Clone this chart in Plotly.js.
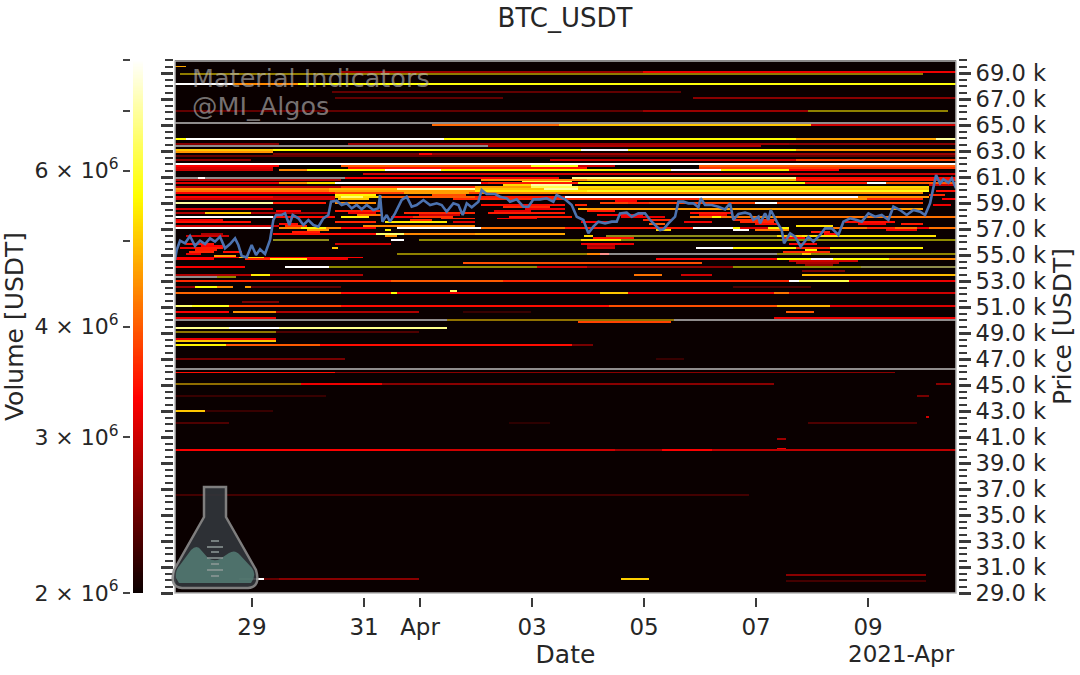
<!DOCTYPE html>
<html>
<head>
<meta charset="utf-8">
<script src="https://cdn.plot.ly/plotly-3.0.1.min.js"></script>
<style>html,body{margin:0;padding:0;background:#fff}</style>
</head>
<body>
<div id="plot" style="width:1080px;height:675px"></div>
<script>
// time is in days since 2021-03-28 00:00, price in USDT, volume in millions of USDT
var startDay = -0.375;
var endDay = 13.57;

// price line
var priceDay = [-0.375,-0.345,-0.285,-0.196,-0.107,-0.018,0.072,0.161,0.25,0.34,0.429,0.518,0.607,0.697,0.756,0.816,0.905,0.994,1.072,1.143,1.232,1.322,1.381,1.429,1.53,1.59,1.667,1.726,1.828,1.917,2.006,2.096,2.185,2.274,2.363,2.411,2.512,2.601,2.69,2.78,2.869,2.958,3.048,3.167,3.256,3.286,3.328,3.405,3.464,3.554,3.673,3.762,3.851,3.94,4.06,4.179,4.298,4.387,4.476,4.595,4.685,4.762,4.834,4.923,5.042,5.101,5.19,5.34,5.429,5.548,5.607,5.726,5.845,5.935,6.024,6.143,6.262,6.381,6.44,6.56,6.589,6.708,6.798,6.917,7.006,7.095,7.185,7.304,7.423,7.512,7.571,7.69,7.78,7.899,8.018,8.107,8.226,8.286,8.345,8.435,8.554,8.613,8.702,8.792,8.881,8.97,9.012,9.089,9.208,9.327,9.446,9.536,9.595,9.685,9.804,9.893,9.952,10.042,10.071,10.161,10.22,10.262,10.369,10.458,10.5,10.607,10.696,10.798,10.935,11.024,11.143,11.232,11.351,11.47,11.56,11.679,11.798,11.887,12.006,12.125,12.244,12.363,12.452,12.571,12.69,12.81,12.929,13.018,13.107,13.167,13.214,13.286,13.345,13.435,13.494,13.57];
var priceUsd = [54615,55385,56102,55897,56461,55692,56102,55846,56282,56025,56410,55513,55846,56282,55769,54923,54820,55769,55000,55436,55077,56154,57692,58077,58077,58205,57307,58077,57820,57307,57692,57307,57179,57820,58077,59102,59179,58846,58974,58589,58846,58512,58846,58461,58589,59615,57564,58077,57564,58205,59230,59487,58717,58846,59230,58846,58974,58846,58333,58974,58846,58077,58974,58666,59102,59999,59692,59692,59487,59359,59102,59282,58717,58717,59282,59282,59359,59102,59615,59359,59282,58846,57948,57692,56666,57179,57564,57435,57564,57564,58205,58256,57948,58205,58205,57692,57179,56923,56974,57435,57948,59102,59102,58974,58974,58666,59359,58846,58846,58717,58512,58974,57692,58153,58256,58153,57692,57948,57435,58205,57692,58461,57564,56923,55897,56666,56410,55641,56410,56025,56538,57051,57051,56538,57564,57820,57692,57564,58205,57948,58077,57692,58717,58461,58077,58461,58333,58077,58974,60256,61153,60512,60820,60564,60897,60128];

// resting order walls: [price, from day, to day, volume]
var upperWalls = [
  [69540,-0.375,-0.2,4.7],[69100,2.6,8,2.7],[69100,8,13.57,3.2],
  [68080,-0.375,0.66,8],[68080,0.66,1.8,4.4],[68080,1.8,13.57,5.7],
  [67540,2.45,8.64,2.4],[67080,2.5,5.5,2.4],[67080,8.9,13.57,2.6],
  [66000,-0.375,8,2.4],[66000,8,10.95,2.7],
  [65050,4.2,6.5,4.1],[65050,6.5,11,5.0],[65050,11,13.57,3.0],
  [64000,-0.375,-0.2,5.6],[64000,-0.2,4.45,8],[64000,4.45,10.7,5.6],[64000,10.7,13.2,4.7],[64000,13.2,13.57,7],
  [63540,-0.375,1.5,2.6],[63540,2.7,10.6,2.7],[63540,10.6,13.57,2.6],
  [63300,5.2,10.1,2.8],
  [63000,-0.375,1.4,5.0],[63000,1.4,6.9,5.6],[63000,6.9,7.7,8],[63000,7.7,10.7,5.6],[63000,10.7,13.57,4.6],
  [62850,-0.375,1.4,4.5],[62700,1.4,4,2.5],[62700,4,4.2,3.3],[62700,4.2,13.57,2.7],
  [62530,-0.375,13.57,2.4],[62230,-0.375,1,2.6],[62230,6.3,10.7,3.0],[62230,10.7,13.57,3.8],
  [62000,-0.375,13.57,8],
  [61800,-0.375,1.5,3.3],[61800,2.6,6,4],[61800,6,6.8,5.8],[61800,6.8,7.5,3],[61800,9,13.57,4],
  [61650,-0.375,1.4,3.1],[61650,2.7,7,3.4],[61650,9,13.57,3.7],
  [61500,-0.375,1.4,3.0],[61500,1.5,2,4.4],[61500,2,3.4,5.6],[61500,3.4,4.4,8],[61500,4.4,8.5,5.5],[61500,8.5,9.4,8],[61500,9.4,10.6,5.5],[61500,10.6,11.5,3.3],
  [61230,3,13.57,3.0]
];

var priceZoneWalls = [
  [61000,0.05,0.15,8],[61000,2.65,6.5,3.3],[61000,6.7,10.7,6.8],[61000,10.7,13.57,3.4],
  [60770,-0.375,2.6,2.8],[60770,5.1,7,4.4],[60770,7,10.7,4.8],[60770,10.7,13.57,3.5],
  [60540,-0.375,1.5,3.1],[60540,1.5,2,4.5],[60540,2,2.5,5.3],[60540,2.5,5.1,8],[60540,5.1,6.2,3.3],[60540,6.2,6.6,7],[60540,6.6,10.9,5.6],[60540,10.9,12,3.5],[60540,12,12.3,8],[60540,12.3,13.57,4],
  [60230,-0.375,2.6,2.9],[60230,2.6,5,3.6],[60230,5,6.8,4.6],[60230,6.8,13.1,5.2],
  [60000,-0.375,2.4,4.5],[60000,2.4,3.6,4.9],[60000,3.6,5,7],[60000,5,13.1,5.0],
  [59850,-0.375,2.4,4.2],[59850,2.4,5,4.6],[59850,5,7,5.4],[59850,7,13.1,5.8],
  [59700,-0.375,2.5,3.3],[59700,2.5,5.1,3.8],[59700,5.1,13,4.4],
  [59460,-0.375,1.4,3.3],[59460,1.4,2.5,3],[59460,2.5,3.3,5.2],[59460,3.3,5,4],[59460,5,6.6,3.5],[59460,6.6,11.8,8],[59460,11.8,13.1,4.5],
  [59230,-0.375,2.5,3.0],[59230,4.6,9,3.6],[59230,9,12,4.4],[59230,12,13,3.6],
  [59000,-0.375,1.4,7],[59000,1.4,2.3,3.5],[59000,2.5,3.2,4.4],[59000,7.2,10,3.8],[59000,10,10.4,8],[59000,10.4,13,3.8],
  [58600,-0.375,1.4,3.1],[58600,7,13,4.6],[58310,-0.375,0.15,2.8],[58310,0.15,1,5],[58310,1,2.4,2.8],
  [58000,-0.375,1.4,8],[58000,1.4,2.5,3.4],[58000,2.6,3.1,5.5],[58000,8.8,13.57,4.2],
  [57700,-0.375,0.5,3.2],[57700,9.6,10.4,3.6],[57460,-0.375,1,3.4],[57460,3.4,4.5,5.4],
  [57230,-0.375,1.5,3.0],[57230,3,5,4.4],
  [57000,-0.375,1.4,8],[57000,1.5,2.6,4.4],[57000,3.6,5.1,8],[57000,5.1,6.6,4.2],[57000,6.6,8.9,3.5],[57000,8.9,9.6,8],[57000,9.6,10.6,5.5],[57000,11.4,13.57,4.2],
  [56850,9.6,9.85,8],[56850,10.3,10.6,4.4],
  [56620,1.4,3.2,3.4],[56620,3.2,3.7,6.5],[56620,3.7,5,4.4],[56620,5,6.6,4.7],[56500,10.4,13.2,5.3],
  [56150,3.5,3.7,8],[55850,2.5,3.5,3.0],[55540,2.43,2.53,5],[55540,7,7.5,3],[55540,8.95,9.6,8],[55540,9.6,13,5.5],
  [54850,-0.375,3,3.3],
  [54620,-0.375,0.3,3.3],[54620,0.9,2,5.4],[54620,2,2.7,3.2],[54620,8.2,10.4,3.3],[54620,10.4,11,5.6],[54620,11,11.4,8],[54620,11.4,12.4,5.6],[54620,12.4,13.57,4.4],
  [54310,4.75,9.05,3.9],
  [54080,-0.375,0.9,3.3],[54080,1.6,2.4,8],[54080,6.1,7,3],[54080,7,9.6,2.6]
];

// small patches of orders close to the price line
var priceCells = [
  [56650,0.1,0.5,2.8],[56500,-0.2,0.6,3],[55800,-0.2,0.3,3.4],[55650,0.1,0.5,3.3],[55600,-0.2,0.5,3.5],[55500,-0.3,0,3.2],[55350,0,0.35,3.5],[55300,-0.1,0.3,3.6],[55200,0.5,0.8,3.4],[55050,-0.2,0.1,3.2],[54900,0.3,0.7,4.6],[54800,0.75,1.2,5.0],[54650,0.9,1.3,3.6],
  [58350,1.45,1.9,3.3],[57400,1.5,1.8,3.4],[57200,1.6,2,3.6],[57050,1.9,2.3,5.5],[56900,2,2.4,4.5],[56750,1.7,2.2,3.5],
  [59600,2.5,3.2,5.5],[59450,2.6,3,6.5],[59300,2.55,3.1,5.0],[58400,2.5,3.3,3.5],[58200,2.7,3.2,3.2],[58050,2.9,3.3,4.2],[57500,2.5,3.2,3.6],[57100,2.6,3.2,3.3],
  [56900,3.4,3.5,5.5],[56500,3.4,3.6,4.5],
  [59750,3.7,4.9,4.6],[59600,4.2,4.8,3.9],[58300,3.7,5,3.6],[58100,4,4.7,3],[57950,3.5,4.3,3.3],[57900,3.9,4.6,3.7],[57800,4.4,5,3.6],[57650,3.8,4.2,3.6],[57500,4.6,5,3.1],
  [60650,5.8,6.7,6],[60500,5.2,6.8,3.5],[60350,6,6.7,7],[60300,5.5,6,5.2],[60200,6,6.8,6.3],[60050,6.2,6.8,7],[58900,5.1,5.8,3.4],[58800,5.1,6.6,3.4],[58750,5.5,6.3,3.6],[58600,5.9,6.6,3.2],[58450,5.3,6,3.1],[58200,5.2,6.6,3.5],[58000,5.6,6.7,3.5],[57800,5.4,6.1,3.2],
  [58900,6.75,7,3.6],[58600,6.8,7,4.8],[56450,6.95,7.08,5.2],[58100,7.15,7.5,3.4],[59200,7.5,7.9,3.3],[59000,7.7,8.1,3.6],[57300,8.1,8.4,4.0],[56900,8.2,8.5,5.2],
  [58450,7,7.5,3.5],[58150,7.2,8,3.3],[57900,7.6,8.4,3.2],[57700,8,8.5,3.6],[57500,6.9,7.4,3.3],[56300,7.1,7.8,3.4],[56100,6.9,7.6,4.8],[55900,6.9,7.8,3.2],[55700,7,7.5,2.8],[55150,7,7.4,3.4],
  [58300,8.8,9.6,3.4],[58200,9,9.5,3.5],[58100,9,9.5,3.2],[57900,9.2,9.4,5.5],[57500,8.7,9.2,3.2],[57500,9.7,10.3,3.6],[57300,10,10.4,3.4],[57100,9.7,10.2,3.1],[56900,10,10.5,4.2],[58000,10.1,10.4,4.5],
  [57200,10.7,11.4,5.3],[56800,11,11.3,3.5],[56600,11.2,11.5,3.3],[56400,10.5,10.8,5],[56300,10.5,10.9,3.3],[55900,10.6,11.1,3.3],[55600,10.7,11.3,3.6],[55400,10.9,11.1,5.5],[55300,10.5,11.3,3.6],[55150,10.8,11,4.6],[54500,10.6,11.8,3.0],[54300,10.7,11.5,2.8],[54150,10.9,11.4,2.6],[53800,10.8,11.6,2.5],
  [57500,11.6,12.5,3.4],[57300,11.8,12.3,3.2],[57100,12,12.5,3.6],[56900,12.3,12.9,3.2],[57300,12.6,13,3.5],[57000,12.9,13.1,3.2],
  [60300,13.1,13.57,3.0],[59900,13.2,13.57,3.4],[59600,13.1,13.4,3.6],[59300,13.3,13.57,3.3],[58900,13.15,13.5,3.2]
];

var lowerWalls = [
  [53520,-0.375,3,2.8],[53520,1.0,1.3,5.4],[53520,7.8,8.3,4.2],[53520,8.65,9.2,3.0],[53520,10.8,13.57,4.9],
  [53020,-0.375,3.5,3.6],[53020,3.5,5.5,4.0],[53020,5.5,10.6,3.6],[53020,10.6,10.75,8],[53020,10.75,11.65,6.2],[53020,11.65,13.57,3.2],
  [52600,-0.375,0,2.7],[52600,0,0.4,5.6],[52600,0.4,0.65,4.4],[52600,0.85,1,4.6],[52600,1,2.6,2.4],[52600,9.6,11,2.3],
  [52230,4.55,4.65,6.5],
  [52050,-0.375,2.6,4.1],[52050,2.6,3.5,3.4],[52050,3.5,3.6,5.6],[52050,3.6,7.2,3.3],[52050,7.2,7.7,5.0],[52050,7.7,10.3,3.2],[52050,10.3,10.6,4.2],[52050,10.6,13.57,3.0],
  [51300,0.8,1.5,2.5],
  [51020,-0.375,-0.05,6.5],[51020,-0.05,0.6,5.8],[51020,0.6,2.6,3.8],[51020,2.6,7.4,3.4],[51020,7.4,10.4,3.9],[51020,10.4,11.3,4.8],[51020,11.3,13.57,3.1],
  [50560,-0.375,0.6,3.3],[50560,0.65,1.45,4.5],[50560,1.45,4,2.8],[50560,4.75,6,2.2],[50560,10.55,11.05,4.0],
  [50180,-0.375,1.45,3.2],[50180,10.3,13.57,3.2],[49850,6.8,8.5,3.8],
  [49460,-0.375,0.6,6.8],[49460,0.6,1.5,8],[49460,1.5,4.5,6.8],
  [49080,1.45,4,2.3],[48500,-0.375,1.45,3.2],[48400,-0.375,1.45,5.0],
  [48000,-0.375,0.55,5.5],[48000,0.55,2.2,4.0],[48000,2.2,6.7,3.4],[48000,6.7,7.1,2.5],
  [47020,-0.375,2.65,2.5],[47020,8.2,8.7,2.2],
  [46020,-0.375,2.5,3.4],[46020,2.5,12.5,2.6],
  [45000,1.9,3.3,3.2],[45000,3.3,10.3,2.6],[45000,13.2,13.5,2.6],
  [44100,-0.375,2.3,2.2],[44100,12.9,13.1,2.5],[43020,-0.375,0.18,5.0],[43020,0.18,1.4,2.2],
  [42520,13.02,13.08,3.0],[42000,-0.375,0.6,2.3],[42000,5.6,6.3,2.15],[42000,10.95,12.9,2.3],
  [40900,10.4,10.55,2.7],[40100,10.4,10.55,3.2],
  [40000,-0.375,3.8,3.3],[40000,3.8,7.5,3.0],[40000,7.5,8.3,2.7],[40000,8.3,9.2,3.3],[40000,9.2,13.57,2.9],
  [30400,10.55,13.03,2.6],[30000,0.78,1.21,8],[30000,1.21,1.5,2.4],[30000,1.5,4,2.6],[30000,7.6,8.1,5.1],[29930,10.55,13.03,2.25]
];

var thinLine = [[36510,-0.375,9.9,2.25]];

// walls that only show as a washed out gray or olive line
var faintWalls = [
  [68950,-0.3,13,5.3],[66000,10.95,13.45,5.4],[65200,-0.375,13.57,8],[63300,-0.375,5.2,8],
  [61000,-0.375,2.65,8],
  [56500,7.3,10.4,6],[56150,1.4,2.4,6],[56150,4,7.6,5.6],[56150,7.6,13.57,5.6],[55080,3.6,7.2,5.4],[55080,7.2,10.4,8],[55080,10.4,13.57,5.5],
  [54080,2.4,6.1,5.6],[54080,9.6,11.9,5.6],[54080,11.9,13.57,6.8],
  [53330,-0.375,0.35,8],[53330,0.35,0.7,5.6],
  [50050,-0.375,4.5,8],[50050,4.5,8.55,5.1],[50050,8.55,13.57,8],
  [49080,-0.375,1.45,5.2],[46300,-0.375,13.57,8],[45000,-0.375,1.9,5.0]
];

var priceTicks = [29000,31000,33000,35000,37000,39000,41000,43000,45000,47000,49000,51000,53000,55000,57000,59000,61000,63000,65000,67000,69000];
var dayTicks = [1,3,4,6,8,10,12];
var dayLabels = ['29','31','Apr','03','05','07','09'];
var volumeTicks = [2e6,3e6,4e6,6e6];
var volumeLabels = ['2 × 10<sup>6</sup>','3 × 10<sup>6</sup>','4 × 10<sup>6</sup>','6 × 10<sup>6</sup>'];
var volumeMinorTicks = [5e6,7e6,8e6];

var hot = [[0,'#0a0000'],[0.365,'#ff0000'],[0.746,'#ffff00'],[1,'#ffffff']];
var textColor = '#262626';

function toDate(d) {
  return new Date(Date.UTC(2021,2,28) + d*864e5).toISOString().slice(0,19).replace('T',' ');
}

// everything is placed in pixels of the 1080x675 page, margins are 0
function px(x) { return x/1080; }
function py(y) { return 1 - y/675; }

var rowStep = 150;
var colStep = 1/18;
var rows = [], cols = [], colDates = [];
for (var r = 29000; r <= 70000; r += rowStep) rows.push(r);
for (var c = startDay; c <= endDay; c += colStep) { cols.push(c); colDates.push(toDate(c)); }

function fillGrid(lists, base) {
  var grid = rows.map(function() { return cols.map(function() { return base; }); });
  lists.forEach(function(list) {
    list.forEach(function(b) {
      var row = Math.round((b[0]-29000)/rowStep);
      for (var j = 0; j < cols.length; j++) {
        if (cols[j] >= b[1] && cols[j] < b[2]) grid[row][j] = Math.log10(b[3]*1e6);
      }
    });
  });
  return grid;
}

var zMin = Math.log10(2e6), zMax = Math.log10(8e6);

var wallTrace = {
  type: 'heatmap', x: colDates, y: rows,
  z: fillGrid([upperWalls, priceZoneWalls, priceCells, lowerWalls, thinLine], zMin),
  zmin: zMin, zmax: zMax, colorscale: hot, showscale: false, hoverinfo: 'skip',
  xaxis: 'x', yaxis: 'y'
};
var faintTrace = {
  type: 'heatmap', x: colDates, y: rows,
  z: fillGrid([faintWalls], null),
  zmin: zMin, zmax: zMax, colorscale: hot, showscale: false, opacity: 0.55, hoverinfo: 'skip',
  xaxis: 'x', yaxis: 'y'
};
var priceTrace = {
  type: 'scatter', mode: 'lines', x: priceDay.map(toDate), y: priceUsd,
  line: {color: '#4c72b0', width: 2.6}, hoverinfo: 'skip',
  xaxis: 'x', yaxis: 'y2'
};

// the color bar sits left of the plot with its labels on the left, so it gets its own axes
var barLevels = [];
for (var i = 0; i <= 200; i++) barLevels.push(2e6*Math.pow(4, i/200));
var barTrace = {
  type: 'heatmap', x: [0,1], y: barLevels,
  z: barLevels.map(function(v) { return [Math.log10(v), Math.log10(v)]; }),
  zmin: zMin, zmax: zMax, colorscale: hot, showscale: false, hoverinfo: 'skip',
  xaxis: 'x3', yaxis: 'y3'
};

var yMinor = {ticks: 'outside', ticklen: 8, tickwidth: 2, tickcolor: '#3a3a3a', dtick: 500, tick0: 29000};

var layout = {
  width: 1080, height: 675,
  margin: {l: 0, r: 0, t: 0, b: 0},
  paper_bgcolor: '#fff', plot_bgcolor: '#0a0000',
  showlegend: false,
  font: {family: 'DejaVu Sans', color: textColor, size: 22},
  title: {text: 'BTC_USDT', x: px(565), y: py(18), xanchor: 'center', yanchor: 'middle', font: {size: 26, color: textColor}},
  xaxis: {
    domain: [px(175), px(956)], anchor: 'free', position: py(597),
    type: 'date', range: [toDate(startDay), toDate(endDay)],
    tickmode: 'array', tickvals: dayTicks.map(toDate), ticktext: dayLabels,
    ticks: 'outside', ticklen: 9, tickwidth: 2, tickcolor: '#3a3a3a',
    showgrid: false, zeroline: false, showline: false, tickfont: {size: 23, color: textColor},
    title: {text: 'Date', font: {size: 25, color: textColor}, standoff: 0}
  },
  yaxis: {
    domain: [py(593), py(60)], anchor: 'free', position: px(173),
    range: [29000, 70000],
    tickmode: 'array', tickvals: priceTicks, showticklabels: false,
    ticks: 'outside', ticklen: 12, tickwidth: 3, tickcolor: '#3a3a3a', minor: yMinor,
    showgrid: false, zeroline: false, showline: false
  },
  yaxis2: {
    domain: [py(593), py(60)], anchor: 'free', position: px(958), side: 'right', overlaying: 'y',
    range: [29000, 70000],
    tickmode: 'array', tickvals: priceTicks,
    ticktext: priceTicks.map(function(p) { return (p/1000).toFixed(1) + ' k'; }),
    ticks: 'outside', ticklen: 12, tickwidth: 3, tickcolor: '#3a3a3a', minor: yMinor,
    showgrid: false, zeroline: false, showline: false, tickfont: {size: 22.6, color: textColor},
    title: {text: 'Price [USDT]', font: {size: 25, color: textColor}, standoff: 7}
  },
  xaxis3: {
    domain: [px(133), px(143)], anchor: 'y3', range: [0, 1],
    showticklabels: false, ticks: '', showgrid: false, zeroline: false, showline: false
  },
  yaxis3: {
    domain: [py(593), py(60)], anchor: 'free', position: px(130),
    type: 'log', range: [zMin, zMax],
    tickmode: 'array', tickvals: volumeTicks, ticktext: volumeLabels,
    ticks: 'outside', ticklen: 7, tickwidth: 2, tickcolor: '#444',
    minor: {tickmode: 'array', tickvals: volumeMinorTicks, ticks: 'outside', ticklen: 7, tickwidth: 2, tickcolor: '#444', showgrid: false},
    showgrid: false, zeroline: false, showline: false, tickfont: {size: 22, color: textColor},
    title: {text: 'Volume [USDT]', font: {size: 25, color: textColor}, standoff: 10}
  },
  annotations: [
    {xref: 'paper', yref: 'paper', x: px(957), y: py(654), xanchor: 'right', yanchor: 'middle', showarrow: false, text: '2021-Apr', font: {size: 23, color: textColor}},
    {xref: 'paper', yref: 'paper', x: px(190), y: py(78), xanchor: 'left', yanchor: 'middle', showarrow: false, text: 'Material Indicators', font: {size: 25.5, color: 'rgba(190,190,190,0.6)'}},
    {xref: 'paper', yref: 'paper', x: px(190), y: py(106), xanchor: 'left', yanchor: 'middle', showarrow: false, text: '@MI_Algos', font: {size: 25.5, color: 'rgba(190,190,190,0.6)'}}
  ],
  shapes: []
};

function pathOf(cmds) {
  return cmds.map(function(c) {
    var s = c[0];
    for (var k = 1; k < c.length; k += 2) s += ' ' + px(c[k]).toFixed(5) + ' ' + py(c[k+1]).toFixed(5);
    return s;
  }).join(' ');
}
function logoShape(cmds, fill, line, width, opacity) {
  return {type: 'path', xref: 'paper', yref: 'paper', layer: 'above', path: pathOf(cmds), fillcolor: fill,
          line: {color: line, width: width}, opacity: opacity};
}

// plot frame
layout.shapes.push({type: 'rect', xref: 'paper', yref: 'paper', x0: px(175), x1: px(956), y0: py(593), y1: py(61),
                    line: {color: '#b5b5b5', width: 1.5}, layer: 'above'});

// flask logo
layout.shapes.push(logoShape([['M',204,487],['L',226,487],['L',226,517],['L',256,570],['Q',261,587,248,588],['L',182,588],['Q',169,587,174,570],['L',204,517],['Z']],
  '#31363b', '#8c8c8c', 2.5, 0.9));
layout.shapes.push(logoShape([['M',176,578],['Q',175,570,180,565],['L',191,550],['Q',197,544,201,550],['L',208,558],['Q',214,562,220,559],['L',229,553],['Q',235,549,240,555],['L',252,568],['Q',257,575,251,583],['L',179,583],['Z']],
  '#557d74', 'rgba(0,0,0,0)', 0, 0.85));
var markY = [541,547,552,558,564,570,576];
markY.forEach(function(y, n) {
  var half = n % 2 ? 8 : 4;
  layout.shapes.push(logoShape([['M',215-half,y],['L',215+half,y]], 'rgba(0,0,0,0)', '#8f9a98', 1.5, 1));
});

Plotly.newPlot('plot', [wallTrace, faintTrace, priceTrace, barTrace], layout, {displayModeBar: false, staticPlot: true});
</script>
</body>
</html>
